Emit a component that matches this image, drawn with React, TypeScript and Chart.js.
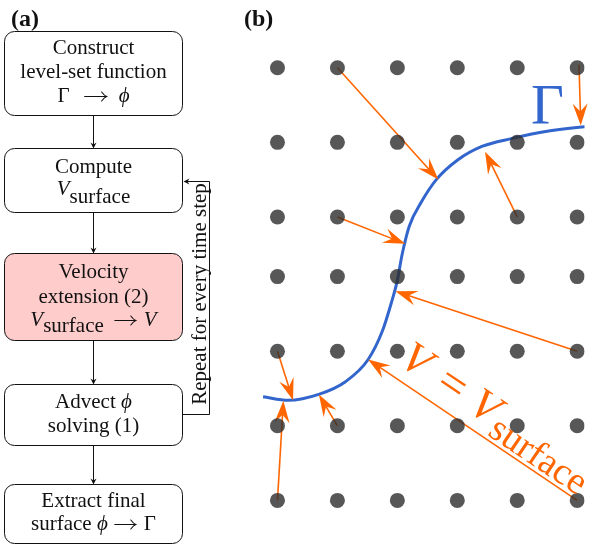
import React, { useEffect, useRef } from "react";
import { Chart, registerables } from "chart.js";

Chart.register(...registerables);

// ---------- data ----------
const gridCols = [0, 1, 2, 3, 4, 5];
const gridRows = [0, 1, 2, 2.8, 3.8, 4.8, 5.8];

const curveX = [-0.24, 0.18, 0.7, 1.14, 1.51, 1.75, 1.9, 2.0, 2.08, 2.2, 2.4, 2.65, 3.0, 3.41, 3.9, 4.55, 5.12, 5.4];
const curveY = [4.41, 4.458, 4.375, 4.205, 3.915, 3.53, 3.15, 2.85, 2.5, 2.12, 1.8, 1.5, 1.24, 1.055, 0.95, 0.845, 0.79, 0.775];

const arrowFromX = [1, 5.03, 4, 1, 5, 0, 0, 1, 5];
const arrowFromY = [0, -0.04, 2, 2, 3.8, 3.8, 5.8, 4.8, 5.8];
const arrowToX = [2.683, 5.06, 3.463, 2.13, 1.967, 0.26, 0.098, 0.691, 1.512];
const arrowToY = [1.499, 0.775, 1.125, 2.36, 2.995, 4.459, 4.465, 4.381, 3.911];

type Seg = { t?: string; i?: boolean; sub?: number; arrow?: boolean; w?: number };
const stepLines: Seg[][][] = [
  [[{ t: "Construct" }], [{ t: "level-set function" }], [{ t: "Γ" }, { w: 15 }, { arrow: true, w: 22 }, { w: 12 }, { t: "ϕ", i: true }]],
  [[{ t: "Compute" }], [{ t: "V", i: true }, { t: "surface", sub: 8 }]],
  [[{ t: "Velocity" }], [{ t: "extension (2)" }], [{ t: "V", i: true }, { t: "surface", sub: 6 }, { w: 11 }, { arrow: true, w: 21 }, { w: 8 }, { t: "V", i: true }]],
  [[{ t: "Advect " }, { t: "ϕ", i: true }], [{ t: "solving (1)" }]],
  [[{ t: "Extract final" }], [{ t: "surface " }, { t: "ϕ", i: true }, { w: 7 }, { arrow: true, w: 21 }, { w: 8 }, { t: "Γ" }]],
];
const stepHighlight = [false, false, true, false, false];
const loopLabel = "Repeat for every time step";
const panelLabels = ["(a)", "(b)"];
const curveLabel = "Γ";

// ---------- styles / layout ----------
const SERIF = '"Liberation Serif", "Times New Roman", "DejaVu Serif", serif';
const ORANGE = "#ff6600";
const BLUE = "#3366cc";
const boxTop = [31, 148, 253, 384, 484];
const boxBottom = [115, 212, 340, 445, 543];
const boxBaselines = [[54, 78, 102], [173, 195], [278, 303, 326], [408, 432], [507, 530]];
const BOX_L = 4.5, BOX_R = 182.5, BOX_CX = 93.5, RADIUS = 10;

function segFont(s: Seg, size: number) {
  return (s.i ? "italic " : "") + size + "px " + SERIF;
}

function drawSegs(ctx: CanvasRenderingContext2D, segs: Seg[], cx: number, y: number, size: number) {
  const widths = segs.map((s) => {
    if (s.w !== undefined) return s.w;
    ctx.font = segFont(s, size);
    return ctx.measureText(s.t || "").width;
  });
  const total = widths.reduce((a, b) => a + b, 0);
  let x = cx - total / 2;
  ctx.textAlign = "left";
  ctx.textBaseline = "alphabetic";
  segs.forEach((s, k) => {
    if (s.arrow) {
      const ay = Math.round(y - 6) + 0.5;
      const x1 = x + widths[k];
      ctx.save();
      ctx.lineWidth = 1.1;
      ctx.lineCap = "round";
      ctx.beginPath();
      ctx.moveTo(x, ay);
      ctx.lineTo(x1, ay);
      ctx.moveTo(x1 - 5, ay - 4.5);
      ctx.quadraticCurveTo(x1 - 2.5, ay - 1, x1, ay);
      ctx.quadraticCurveTo(x1 - 2.5, ay + 1, x1 - 5, ay + 4.5);
      ctx.stroke();
      ctx.restore();
    } else if (s.t) {
      ctx.font = segFont(s, size);
      ctx.fillText(s.t, x, y + (s.sub || 0));
    }
    x += widths[k];
  });
}

function roundRect(ctx: CanvasRenderingContext2D, x0: number, y0: number, x1: number, y1: number, r: number) {
  ctx.beginPath();
  ctx.moveTo(x0 + r, y0);
  ctx.lineTo(x1 - r, y0);
  ctx.arcTo(x1, y0, x1, y0 + r, r);
  ctx.lineTo(x1, y1 - r);
  ctx.arcTo(x1, y1, x1 - r, y1, r);
  ctx.lineTo(x0 + r, y1);
  ctx.arcTo(x0, y1, x0, y1 - r, r);
  ctx.lineTo(x0, y0 + r);
  ctx.arcTo(x0, y0, x0 + r, y0, r);
  ctx.closePath();
}

function arrowHead(ctx: CanvasRenderingContext2D, tx: number, ty: number, ux: number, uy: number, L: number, W: number, N: number) {
  const nx = -uy, ny = ux;
  ctx.beginPath();
  ctx.moveTo(tx, ty);
  ctx.lineTo(tx - L * ux + W * nx, ty - L * uy + W * ny);
  ctx.lineTo(tx - N * ux, ty - N * uy);
  ctx.lineTo(tx - L * ux - W * nx, ty - L * uy - W * ny);
  ctx.closePath();
  ctx.fill();
}

function drawFlowchart(ctx: CanvasRenderingContext2D) {
  ctx.save();
  ctx.lineWidth = 1;
  ctx.strokeStyle = "#111";
  ctx.fillStyle = "#111";
  ctx.font = "bold 24px " + SERIF;
  ctx.textAlign = "left";
  ctx.textBaseline = "alphabetic";
  ctx.fillText(panelLabels[0], 11, 26);
  ctx.fillText(panelLabels[1], 244, 26);

  stepLines.forEach((lines, b) => {
    roundRect(ctx, BOX_L, boxTop[b] + 0.5, BOX_R, boxBottom[b] + 0.5, RADIUS);
    ctx.fillStyle = stepHighlight[b] ? "#ffcccc" : "#ffffff";
    ctx.fill();
    ctx.strokeStyle = "#111";
    ctx.stroke();
    ctx.fillStyle = "#111";
    lines.forEach((segs, k) => drawSegs(ctx, segs, BOX_CX, boxBaselines[b][k], 21));
    if (b < stepLines.length - 1) {
      ctx.beginPath();
      ctx.moveTo(BOX_CX, boxBottom[b] + 0.5);
      ctx.lineTo(BOX_CX, boxTop[b + 1] - 3);
      ctx.stroke();
      arrowHead(ctx, BOX_CX, boxTop[b + 1] + 0.5, 0, 1, 6, 3, 4);
    }
  });
  ctx.beginPath();
  ctx.moveTo(BOX_R, 414.5);
  ctx.lineTo(209.5, 414.5);
  ctx.lineTo(209.5, 181.5);
  ctx.lineTo(BOX_R + 4, 181.5);
  ctx.stroke();
  arrowHead(ctx, BOX_R + 1, 181.5, -1, 0, 6, 3, 4);
  ctx.save();
  ctx.translate(206, 294);
  ctx.rotate(-Math.PI / 2);
  ctx.font = "21px " + SERIF;
  ctx.textAlign = "center";
  ctx.fillText(loopLabel, 0, 0);
  ctx.restore();
  ctx.restore();
}

function drawArrows(chart: any) {
  const { ctx, scales } = chart;
  const xs = scales.x, ys = scales.y;
  ctx.save();
  ctx.strokeStyle = ORANGE;
  ctx.fillStyle = ORANGE;
  ctx.lineWidth = 1.6;
  for (let k = 0; k < arrowFromX.length; k++) {
    const x0 = xs.getPixelForValue(arrowFromX[k]);
    const y0 = ys.getPixelForValue(arrowFromY[k]);
    const x1 = xs.getPixelForValue(arrowToX[k]);
    const y1 = ys.getPixelForValue(arrowToY[k]);
    const len = Math.hypot(x1 - x0, y1 - y0);
    const ux = (x1 - x0) / len, uy = (y1 - y0) / len;
    ctx.beginPath();
    ctx.moveTo(x0, y0);
    ctx.lineTo(x1 - 12 * ux, y1 - 12 * uy);
    ctx.stroke();
    arrowHead(ctx, x1, y1, ux, uy, 22, 7.5, 14);
  }
  ctx.restore();
}

function drawLabels(chart: any) {
  const { ctx, scales } = chart;
  const xs = scales.x, ys = scales.y;
  ctx.save();
  ctx.fillStyle = BLUE;
  ctx.font = "57px " + SERIF;
  ctx.textAlign = "left";
  ctx.textBaseline = "alphabetic";
  ctx.fillText(curveLabel, xs.getPixelForValue(4.23), ys.getPixelForValue(0.756));
  const k = arrowFromX.length - 1;
  const tx = xs.getPixelForValue(arrowToX[k]);
  const ty = ys.getPixelForValue(arrowToY[k]);
  const sx = xs.getPixelForValue(arrowFromX[k]);
  const sy = ys.getPixelForValue(arrowFromY[k]);
  ctx.translate(tx, ty);
  ctx.rotate(Math.atan2(sy - ty, sx - tx));
  ctx.fillStyle = ORANGE;
  ctx.font = "italic 44px " + SERIF;
  ctx.fillText("V", 27, -13);
  ctx.font = "48px " + SERIF;
  ctx.textAlign = "center";
  ctx.fillText("=", 84, -12);
  ctx.textAlign = "left";
  ctx.font = "italic 44px " + SERIF;
  ctx.fillText("V", 110, -13);
  ctx.font = "38px " + SERIF;
  ctx.fillText("surface", 140, -4);
  ctx.restore();
}

const diagramPlugin = {
  id: "diagram",
  beforeDatasetsDraw(chart: any) {
    drawFlowchart(chart.ctx);
  },
  afterDatasetDraw(chart: any, args: any) {
    if (args.index === 0) drawArrows(chart);
  },
  afterDatasetsDraw(chart: any) {
    drawLabels(chart);
  },
};

export default function App() {
  const ref = useRef<HTMLCanvasElement | null>(null);
  useEffect(() => {
    document.body.style.margin = "0";
    if (!ref.current) return;
    const dots: { x: number; y: number }[] = [];
    gridRows.forEach((r) => gridCols.forEach((c) => dots.push({ x: c, y: r })));
    const curve = curveX.map((x, i) => ({ x, y: curveY[i] }));
    const chart = new Chart(ref.current, {
      type: "scatter",
      data: {
        datasets: [
          {
            data: curve,
            showLine: true,
            borderColor: BLUE,
            borderWidth: 3,
            pointRadius: 0,
            cubicInterpolationMode: "monotone",
            order: 1,
          } as any,
          {
            data: dots,
            pointRadius: 7.5,
            pointBackgroundColor: "rgba(45,45,45,0.8)",
            pointBorderWidth: 0,
            order: 0,
          } as any,
        ],
      },
      options: {
        responsive: false,
        animation: false,
        devicePixelRatio: 1,
        layout: { padding: 0 },
        plugins: { legend: { display: false }, tooltip: { enabled: false } },
        events: [],
        scales: {
          x: { type: "linear", min: -4.504, max: 5.122, display: false },
          y: { type: "linear", min: -0.808, max: 6.311, reverse: true, display: false },
        },
      },
      plugins: [diagramPlugin],
    });
    return () => chart.destroy();
  }, []);
  return (
    <div style={{ width: 592, height: 546, background: "#fff" }}>
      <canvas ref={ref} width={592} height={546} style={{ display: "block" }} />
    </div>
  );
}
